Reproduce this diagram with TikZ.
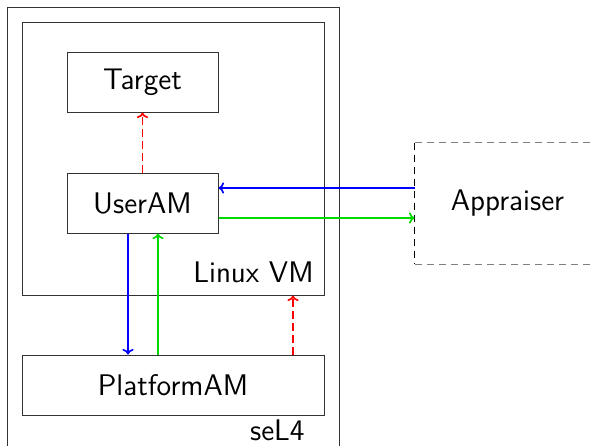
\documentclass[tikz,border=0pt]{standalone}
\usetikzlibrary{calc,arrows.meta}
\begin{document}
\begin{tikzpicture}[x=0.5pt,y=-0.5pt,
  font=\sffamily\fontsize{14.9}{18}\selectfont,
  frame/.style={draw=black!80, line width=0.5pt, inner sep=0pt},
  compbox/.style={frame, minimum width=75.5pt, minimum height=30pt},
  conn/.style={-{To[length=2.8pt,width=5.6pt]}, line width=0.85pt},
  dsh/.style={dash pattern=on 3.6pt off 2.4pt},
  attest/.style={conn, red, dsh}]
\useasboundingbox (0,0) rectangle (595,445);
\clip (0,0) rectangle (595,445);
% containers
\node[frame, minimum width=166pt, minimum height=219.5pt] (sel4) at (173,226.5) {};
\node[frame, minimum width=151pt, minimum height=136.5pt] (linux) at (173,158.5) {};
% components
\node[compbox] (target) at (142.5,82) {Target};
\node[compbox] (useram) at (142.5,203) {UserAM};
\node[frame, minimum width=151pt, minimum height=30pt] (platform) at (173,385) {PlatformAM};
\node[inner sep=0pt, minimum width=92.5pt, minimum height=60.5pt] (appraiser) at (507.5,203.5) {Appraiser};
% labels
\node[anchor=base east, inner sep=0pt] (linuxlbl) at (314,282) {Linux VM};
\node[anchor=base east, inner sep=0pt] (sel4lbl) at (305,440) {seL4};
% appraiser border
\draw[gray, dsh, line width=0.6pt] (appraiser.north west) -- (appraiser.north east);
\draw[gray, dsh, line width=0.6pt] (appraiser.south west) -- (appraiser.south east);
\draw[black, dsh, line width=0.5pt] (appraiser.north west) -- (appraiser.south west);
% connectors
\draw[conn, blue] ([yshift=7.75pt]appraiser.west) -- ([yshift=7.75pt]appraiser.west -| useram.east);
\draw[conn, green!85!black] ([yshift=-7.5pt]useram.east) -- ([yshift=-7.5pt]useram.east -| appraiser.west);
\draw[conn, blue] ([xshift=-7.25pt]useram.south) -- ([xshift=-7.25pt]useram.south |- platform.north);
\draw[conn, green!85!black] ([xshift=7.75pt]useram.south |- platform.north) -- ([xshift=7.75pt]useram.south);
\draw[attest] (useram.north) -- (target.south);
\draw[attest] ([xshift=60pt]platform.north) -- ([xshift=60pt]platform.north |- linux.south);
\end{tikzpicture}
\end{document}
